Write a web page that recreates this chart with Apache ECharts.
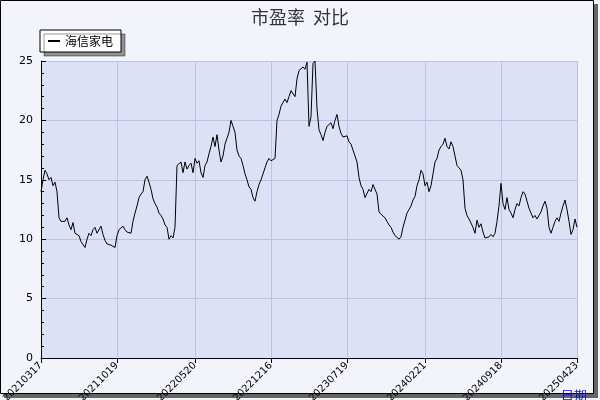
<!DOCTYPE html>
<html><head><meta charset="utf-8">
<script src="https://cdn.jsdelivr.net/npm/echarts@6/dist/echarts.min.js"></script>
<style>html,body{margin:0;padding:0;background:#fff}#c{width:600px;height:400px}</style>
</head><body><div id="c"></div>
<script>
var seriesName = '海信家电';
var tickLabels = ['20210317','20211019','20220520','20221216','20230719','20240221','20240918','20250423'];
var tickIndex = [0,38,77,115,153,192,230,268];
var peValues = [
14,15,15.8,15.5,15,15.2,14.5,14.8,14,11.8,11.5,11.6,11.5,11.8,11.2,10.8,11.4,10.5,10.6,10.3,
9.8,9.7,9.3,10,10.5,10.3,10.8,11.0,10.5,10.6,11.1,10.4,9.9,9.6,9.7,9.5,9.6,9.3,10.3,10.8,
10.9,11.1,10.8,10.6,10.6,10.5,11.5,12.2,12.8,13.5,13.8,14.0,15,15.3,14.8,14.2,13.4,13.0,12.7,12.2,
12.0,11.7,11.2,11.0,10.0,10.3,10.1,11,16.2,16.2,16.5,15.6,16.5,15.9,16.2,16.4,15.6,16.8,16.4,16.6,
15.6,15.2,16.2,16.5,17.2,17.8,18.6,17.8,18.8,17.5,16.5,17.0,18.0,18.5,19.0,20.0,19.5,19.0,17.5,17.0,
16.8,16.2,15.5,15.0,14.4,14.2,13.5,13.2,14.0,14.6,15.0,15.0,16.0,16.5,16.8,16.6,16.5,16.8,20,20.5,
21.2,21.5,21.8,21.5,22.0,22.5,22.6,22.0,23.5,24.2,24.2,24.5,24.3,24.9,19.5,20.3,24.8,25,21,19.2,
18.8,18.3,19.0,19.5,19.5,19.8,19.3,20.0,20.5,19.5,18.9,18.6,18.6,18.7,18.2,18.0,17.5,17.0,16.5,15.2,
14.5,14.2,13.5,13.5,14.2,14.0,14.6,14.5,13.8,12.3,12.1,12.0,11.8,11.5,11.2,11.0,10.6,10.3,10.2,10.0,
10.2,11.0,11.6,12.2,12.5,12.8,13.3,13.6,14.5,15.0,15.8,15.5,14.5,14.8,14.0,14.5,15.5,16.5,16.8,17.5,
17.8,18.0,18.5,17.8,17.6,18.2,17.8,17.0,16.2,16.0,15.8,15.0,12.6,12.0,11.7,11.8,11.0,10.5,11.6,11.0,
11.3,10.6,10.1,10.0,10.2,10.4,10.2,10.5,11.5,12.8,14.7,13.0,12.5,13.5,12.5,12.2,11.8,12.5,13.0,12.8,
13.5,14.0,13.8,13.2,12.6,12.2,11.8,12.0,11.7,12.0,12.3,12.8,13.2,12.6,11.0,10.5,11.0,11.5,11.8,11.5,
12.2,12.8,13.3,12.5,11.5,10.4,10.8,11.7,11.0
];
var categories = peValues.map(function(v,i){var k=tickIndex.indexOf(i);return k>=0?tickLabels[k]:('p'+i);});
var isTick = function(i){return tickIndex.indexOf(i)>=0;};
var chart = echarts.init(document.getElementById('c'));
chart.setOption({
  backgroundColor:'#f3f4fb',
  animation:false,
  title:{text:'市盈率  对比',left:'center',top:3,textStyle:{fontSize:18,fontWeight:'normal',color:'#333',fontFamily:'Noto Sans CJK SC'}},
  legend:{data:[seriesName],left:40,top:30,backgroundColor:'#fff',borderColor:'#000',borderWidth:1,borderRadius:0,
    padding:[5,8],itemWidth:12,itemHeight:2,icon:'rect',textStyle:{fontSize:12,color:'#000',fontFamily:'Noto Sans CJK SC'},
    shadowColor:'rgba(0,0,0,0.4)',shadowOffsetX:4,shadowOffsetY:4,shadowBlur:0},
  grid:{left:41,right:23,top:61,bottom:42,outerBoundsMode:'none',containLabel:false,show:true,backgroundColor:'#dce1f5',borderWidth:0},
  xAxis:{type:'category',data:categories,boundaryGap:false,
    name:'日期',nameLocation:'end',nameGap:-25,nameTextStyle:{color:'#0000ff',fontSize:13,padding:[32,0,0,0],verticalAlign:'top'},
    axisLine:{lineStyle:{color:'#000'}},
    axisTick:{interval:function(i){return isTick(i);},lineStyle:{color:'#000'},length:5},
    axisLabel:{interval:function(i){return isTick(i);},rotate:45,fontSize:10,color:'#000',margin:6,fontFamily:'DejaVu Sans'},
    splitLine:{show:true,interval:function(i){return isTick(i);},lineStyle:{color:'#b9c3e8'}}},
  yAxis:{type:'value',min:0,max:25,interval:5,
    axisLine:{show:true,lineStyle:{color:'#000'}},
    axisTick:{show:true,inside:true,length:5,lineStyle:{color:'#000'}},
    minorTick:{show:true,splitNumber:5,length:3,lineStyle:{color:'#000'}},
    axisLabel:{fontSize:11,color:'#000',fontFamily:'DejaVu Sans'},
    splitLine:{lineStyle:{color:'#b9c3e8'}}},
  series:[{name:seriesName,type:'line',data:peValues,symbol:'none',lineStyle:{color:'#000',width:1},itemStyle:{color:'#000'}}],
  graphic:[
    {type:'rect',shape:{x:4,y:4,width:594,height:394},style:{fill:'#666'},z:-10,silent:true},
    {type:'rect',shape:{x:0.5,y:0.5,width:593,height:393},style:{fill:'#f3f4fb',stroke:'#000',lineWidth:1},z:-9,silent:true}
  ]
});
</script></body></html>
